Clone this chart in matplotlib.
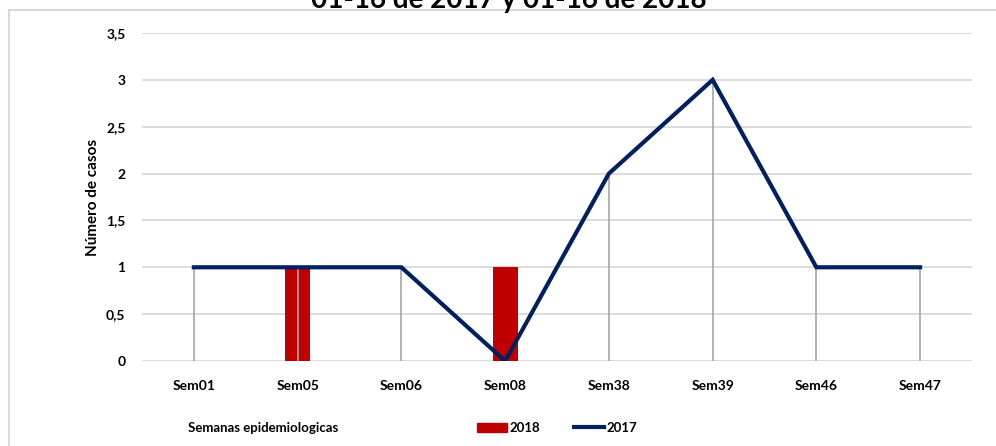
import matplotlib.pyplot as plt
import matplotlib.patches as mpatches
from matplotlib.lines import Line2D
import numpy as np

plt.rcParams['font.family'] = ['Lato', 'DejaVu Sans']
plt.rcParams['font.weight'] = 'bold'

# datos
semanas = ['Sem01', 'Sem05', 'Sem06', 'Sem08', 'Sem38', 'Sem39', 'Sem46', 'Sem47']
casos_2018 = [0, 1, 0, 1, 0, 0, 0, 0]
casos_2017 = [1, 1, 1, 0, 2, 3, 1, 1]
yticks = [0, 0.5, 1, 1.5, 2, 2.5, 3, 3.5]
ytick_labels = ['0', '0,5', '1', '1,5', '2', '2,5', '3', '3,5']

fig = plt.figure(figsize=(9.96, 4.46), dpi=100)
ax = fig.add_axes([142/996, 1-361/446, 830/996, 328/446])

x = np.arange(len(semanas))

# barras 2018
ax.bar(x, casos_2018, width=0.24, color='#C00000', zorder=2)

# lineas de caida (gris) desde la serie 2017
ax.vlines(x, 0, casos_2017, color='#a6a6a6', lw=1.2, zorder=3)

# linea 2017
ax.plot(x, casos_2017, color='#002060', lw=3, zorder=4, solid_joinstyle='miter')

ax.set_xlim(-0.5, len(semanas)-0.5)
ax.set_ylim(0, 3.5)
ax.set_yticks(yticks)
ax.set_yticklabels(ytick_labels, fontsize=10, fontweight='bold')
ax.set_xticks(x)
ax.set_xticklabels(semanas, fontsize=10, fontweight='bold')
ax.tick_params(length=0, pad=12)
ax.tick_params(axis='x', pad=14)
ax.grid(axis='y', color='#d9d9d9', lw=1.3, zorder=0)
ax.set_axisbelow(True)
for s in ax.spines.values():
    s.set_visible(False)
ax.set_ylabel('Número de casos', fontsize=11, fontweight='bold', labelpad=4)

# titulo (cortado arriba, como en la imagen original)
fig.text(0.511, 1-8/446, '01-16 de 2017 y 01-16 de 2018', ha='center', va='baseline',
         fontsize=20, fontweight='bold')

# borde del grafico
borde = mpatches.Rectangle((9/996, -0.1), 1.2, 1-10/446+0.1, transform=fig.transFigure,
                           fill=False, edgecolor='#d9d9d9', lw=1.5, clip_on=False)
fig.patches.append(borde)

# etiqueta eje x y leyenda
fig.text(188/996, 1-428/446, 'Semanas epidemiologicas', ha='left', va='center',
         fontsize=9.5, fontweight='bold')
handles = [mpatches.Patch(color='#C00000', label='2018'),
           Line2D([], [], color='#002060', lw=3, label='2017')]
fig.legend(handles=handles, loc='center', bbox_to_anchor=(557/996, 1-428/446), ncol=2,
           frameon=False, handlelength=2.3, handletextpad=0.15,
           columnspacing=2.6, prop={'weight': 'bold', 'size': 9.5})

fig.savefig('out.png', dpi=100)
